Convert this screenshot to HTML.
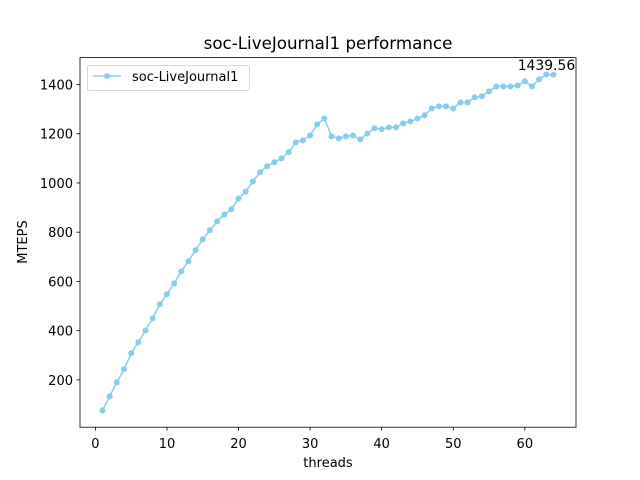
<!DOCTYPE html>
<html><head><meta charset="utf-8"><style>
body{margin:0;background:#fff}
svg{display:block;font-family:"DejaVu Sans","Liberation Sans",sans-serif}
</style></head><body>
<svg id="chart" width="640" height="480">
<rect x="0" y="0" width="640" height="480" fill="#fff"/>
<text x="328" y="49" font-size="16.7" text-anchor="middle">soc-LiveJournal1 performance</text>
<g id="ticks"></g>
<g id="series"></g>
<rect x="80" y="57.6" width="496" height="369.6" fill="none" stroke="#000" stroke-width="0.8"/>
<text x="328" y="467" font-size="13" text-anchor="middle">threads</text>
<text x="27" y="242" font-size="13" text-anchor="middle" transform="rotate(-90 27 242)">MTEPS</text>
<g>
<rect x="87.5" y="65.5" width="162" height="25" rx="2" fill="#fff" stroke="#ccc" stroke-width="0.8"/>
<line x1="93" y1="76" x2="121" y2="76" stroke="#87ceeb" stroke-width="1.5"/>
<circle cx="107" cy="76" r="3" fill="#87ceeb"/>
<text x="132" y="81" font-size="13">soc-LiveJournal1</text>
</g>
</svg>
<script>
const threads=[];for(let i=1;i<=64;i++)threads.push(i);
const mteps=[76,133,190,243,308,353,401,450,507,548,592,641,682,727,771,808,844,872,893,937,965,1006,1043,1068,1084,1100,1125,1165,1173,1193,1238,1262,1189,1181,1189,1193,1177,1201,1222,1218,1226,1226,1242,1250,1262,1275,1303,1311,1311,1303,1327,1327,1348,1352,1372,1392,1392,1392,1396,1413,1392,1421,1441,1439.56];
const xTicks=[0,10,20,30,40,50,60];
const yTicks=[200,400,600,800,1000,1200,1400];
const NS="http://www.w3.org/2000/svg";
const xmin=-2.15,xmax=67.15;
const ylo=Math.min(...mteps),yhi=Math.max(...mteps),m=(yhi-ylo)*0.05;
const ymin=ylo-m,ymax=yhi+m;
const X=v=>80+(v-xmin)/(xmax-xmin)*496;
const Y=v=>427.2-(v-ymin)/(ymax-ymin)*369.6;
function mk(t,a,p){const e=document.createElementNS(NS,t);for(const k in a)e.setAttribute(k,a[k]);p.appendChild(e);return e;}
const tg=document.getElementById('ticks');
xTicks.forEach(t=>{
 const l=mk('line',{x1:X(t),x2:X(t),y1:427.2,y2:430.7,stroke:'#000','stroke-width':0.8},tg);
 
 
 const s=mk('text',{x:X(t),y:448,'font-size':13,'text-anchor':'middle'},tg);s.textContent=t;
 
 
});
yTicks.forEach(t=>{
 const l=mk('line',{x1:76.5,x2:80,y1:Y(t),y2:Y(t),stroke:'#000','stroke-width':0.8},tg);
 
 
 const s=mk('text',{x:73,y:Y(t)+5,'font-size':13,'text-anchor':'end'},tg);s.textContent=t;
 
 
});
const sg=document.getElementById('series');
const pl=mk('polyline',{points:threads.map((t,i)=>X(t)+','+Y(mteps[i])).join(' '),fill:'none',stroke:'#87ceeb','stroke-width':1.5},sg);


threads.forEach((t,i)=>{
 const c=mk('circle',{cx:X(t),cy:Y(mteps[i]),r:3,fill:'#87ceeb'},sg);
 
 
});
const last=mteps.length-1;
const a=mk('text',{x:X(threads[last])-7,y:Y(mteps[last])-5,'font-size':13.9,'text-anchor':'middle'},sg);
a.textContent=mteps[last].toFixed(2);


</script>
</body></html>
